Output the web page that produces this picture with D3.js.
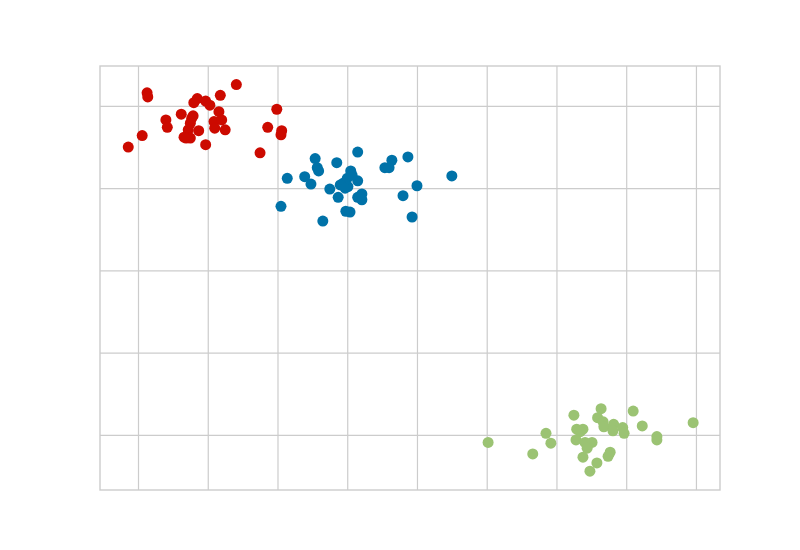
<!DOCTYPE html>
<meta charset="utf-8">
<script src="https://d3js.org/d3.v7.min.js"></script>
<style>
  body { margin: 0; background: #fff; }
</style>
<div id="chart"></div>
<script>

// the three clusters (grid units)
var redX = [0.13, 0.14, 1.41, 0.85, 0.80, 0.97, 1.03, 1.18, 1.99, 0.62, 1.16, 0.40, 0.42, 0.79, 0.75, 0.72,
            0.69, 0.75, 0.87, 1.09, 1.20, 1.10, 1.25, 0.97, 0.06, -0.14, 1.86, 2.06, 2.05, 1.75, 0.77, 0.66]
var redY = [4.16, 4.11, 4.26, 4.09, 4.04, 4.06, 4.01, 4.13, 3.96, 3.90, 3.93, 3.83, 3.74, 3.88, 3.79, 3.71,
            3.61, 3.61, 3.70, 3.81, 3.83, 3.73, 3.71, 3.53, 3.64, 3.50, 3.74, 3.70, 3.65, 3.43, 3.85, 3.62]

var blueX = [3.15, 2.54, 2.57, 2.59, 2.85, 2.14, 2.39, 2.48, 3.05, 3.00, 2.94, 2.90, 3.01, 3.15, 2.75, 2.87, 2.97,
             3.15, 3.21, 3.21, 2.98, 3.04, 2.65, 2.05, 3.54, 3.64, 3.60, 3.87, 4.50, 4.00, 3.80, 3.93, 3.07]
var blueY = [3.44, 3.36, 3.25, 3.21, 3.31, 3.12, 3.14, 3.05, 3.21, 3.12, 3.06, 3.04, 3.02, 3.09, 2.99, 2.89, 3.00,
             2.89, 2.93, 2.86, 2.72, 2.71, 2.60, 2.78, 3.25, 3.34, 3.25, 3.38, 3.15, 3.03, 2.91, 2.65, 3.16]

var greenX = [5.02, 5.66, 5.85, 5.92, 6.25, 6.29, 6.38, 6.34, 6.28, 6.41, 6.51, 6.44, 6.38, 6.58, 6.48, 6.64, 6.59,
              6.67, 6.68, 6.82, 6.81, 6.95, 6.97, 7.10, 7.23, 7.44, 7.44, 7.96, 6.77, 6.74]
var greenY = [-0.09, -0.23, 0.02, -0.10, 0.24, 0.07, 0.07, 0.04, -0.06, -0.09, -0.09, -0.16, -0.27, -0.34, -0.44, 0.32, 0.21,
              0.16, 0.10, 0.13, 0.05, 0.09, 0.02, 0.29, 0.11, -0.02, -0.06, 0.15, -0.21, -0.26]

var xTicks = [0, 1, 2, 3, 4, 5, 6, 7, 8]
var yTicks = [0, 1, 2, 3, 4]

var clusters = [
  {x: blueX, y: blueY, color: "#0072a8"},
  {x: redX, y: redY, color: "#cc0a00"},
  {x: greenX, y: greenY, color: "#9bc373"}
]

var margin = {top: 66, right: 80, bottom: 60, left: 100},
    width = 800 - margin.left - margin.right,
    height = 550 - margin.top - margin.bottom;

var svg = d3.select("#chart")
    .append("svg")
    .attr("width", 800)
    .attr("height", 550)
    .append("g")
    .attr("transform", `translate(${margin.left}, ${margin.top})`);

// axis limits as in the picture (data range plus a small margin)
var x = d3.scaleLinear().domain([-0.545, 8.345]).range([0, width])
var y = d3.scaleLinear().domain([-0.669, 4.486]).range([height, 0])

// grid lines, no labels
svg.append("g")
    .attr("transform", `translate(0, ${height})`)
    .call(d3.axisBottom(x).tickValues(xTicks).tickFormat("").tickSizeOuter(0))
    .call(g => g.select(".domain").remove())
    .call(g => g.selectAll("line").attr("y2", -height).attr("stroke", "#cccccc").attr("stroke-width", 1.2))

svg.append("g")
    .call(d3.axisLeft(y).tickValues(yTicks).tickFormat("").tickSizeOuter(0))
    .call(g => g.select(".domain").remove())
    .call(g => g.selectAll("line").attr("x2", width).attr("stroke", "#cccccc").attr("stroke-width", 1.2))

// frame
svg.append("rect").attr("x", 0).attr("y", 0).attr("width", width).attr("height", height)
    .attr("fill", "none").attr("stroke", "#cccccc").attr("stroke-width", 1.4)

// points
clusters.forEach(function (c) {
  svg.append("g")
    .selectAll("circle")
    .data(d3.range(c.x.length))
    .join("circle")
      .attr("cx", function (i) { return x(c.x[i]); })
      .attr("cy", function (i) { return y(c.y[i]); })
      .attr("r", 5.5)
      .attr("fill", c.color)
})

</script>
